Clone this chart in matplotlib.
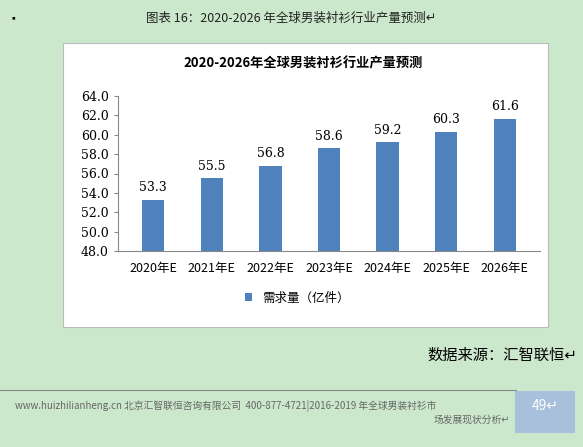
import matplotlib.pyplot as plt
from matplotlib.patches import Rectangle

plt.rcParams['font.family'] = ['Noto Sans CJK SC', 'DejaVu Sans']

years = ['2020年E', '2021年E', '2022年E', '2023年E', '2024年E', '2025年E', '2026年E']
values = [53.3, 55.5, 56.8, 58.6, 59.2, 60.3, 61.6]
yticks = [48.0, 50.0, 52.0, 54.0, 56.0, 58.0, 60.0, 62.0, 64.0]

bg = '#cce8cc'
blue = '#4f81bd'
fig = plt.figure(figsize=(5.83, 4.47), dpi=100, facecolor=bg)

# white chart box
fig.patches.append(Rectangle((63/583, 1-327/447), 485/583, 284/447, transform=fig.transFigure,
                             facecolor='white', edgecolor='#bbbbbb', lw=0.8, zorder=-1))

fig.text(0.5, 1-18/447, '图表 16：2020-2026 年全球男装衬衫行业产量预测↵', ha='center', va='center',
         fontsize=9, color='#222222')
fig.text(0.015, 1-18/447, '▪', fontsize=7, va='center')
fig.text(0.52, 1-63/447, '2020-2026年全球男装衬衫行业产量预测', ha='center', va='center',
         fontsize=9.5, fontweight='bold')

ax = fig.add_axes([118/583, 1-251/447, 422/583, 155/447])
x = range(len(years))
bars = ax.bar(x, [v - 48 for v in values], bottom=48, width=0.38, color=blue, label='需求量（亿件）')
for i, v in zip(x, values):
    ax.text(i, v + 0.6, f'{v:.1f}', ha='center', va='bottom', fontsize=9, family='DejaVu Serif')
ax.set_ylim(48, 64)
ax.set_xlim(-0.6, 6.6)
ax.set_yticks(yticks)
ax.set_yticklabels([f'{t:.1f}' for t in yticks], fontsize=9, family='DejaVu Serif')
ax.set_xticks(list(x))
ax.set_xticklabels(years, fontsize=9)
ax.tick_params(axis='x', length=0, pad=8)
ax.tick_params(axis='y', direction='out', length=3, color='#888888')
for s in ['top', 'right']:
    ax.spines[s].set_visible(False)
ax.spines['left'].set_color('#888888')
ax.spines['bottom'].set_color('#888888')
ax.set_facecolor('white')

fig.legend(handles=[bars], loc='center', bbox_to_anchor=(0.51, 1-298/447), frameon=False,
           fontsize=9, handlelength=0.6, handleheight=0.6)

fig.text(0.99, 1-355/447, '数据来源：汇智联恒↵', ha='right', va='center', fontsize=11)
fig.add_artist(plt.Line2D([0.0, 0.885], [1-390/447, 1-390/447], color='#888888', lw=0.8))
fig.patches.append(Rectangle((515/583, 1-433/447), 60/583, 42/447, transform=fig.transFigure,
                             facecolor='#a9c0dc', edgecolor='none', zorder=-1))
fig.text(545/583, 1-406/447, '49↵', ha='center', va='center', fontsize=10, color='white')
fig.text(0.025, 1-406/447, 'www.huizhilianheng.cn 北京汇智联恒咨询有限公司  400-877-4721|2016-2019 年全球男装衬衫市',
         va='center', fontsize=7, color='#666666')
fig.text(0.875, 1-420/447, '场发展现状分析↵', ha='right', va='center', fontsize=7, color='#666666')

fig.savefig('out.png', dpi=100, facecolor=bg)
